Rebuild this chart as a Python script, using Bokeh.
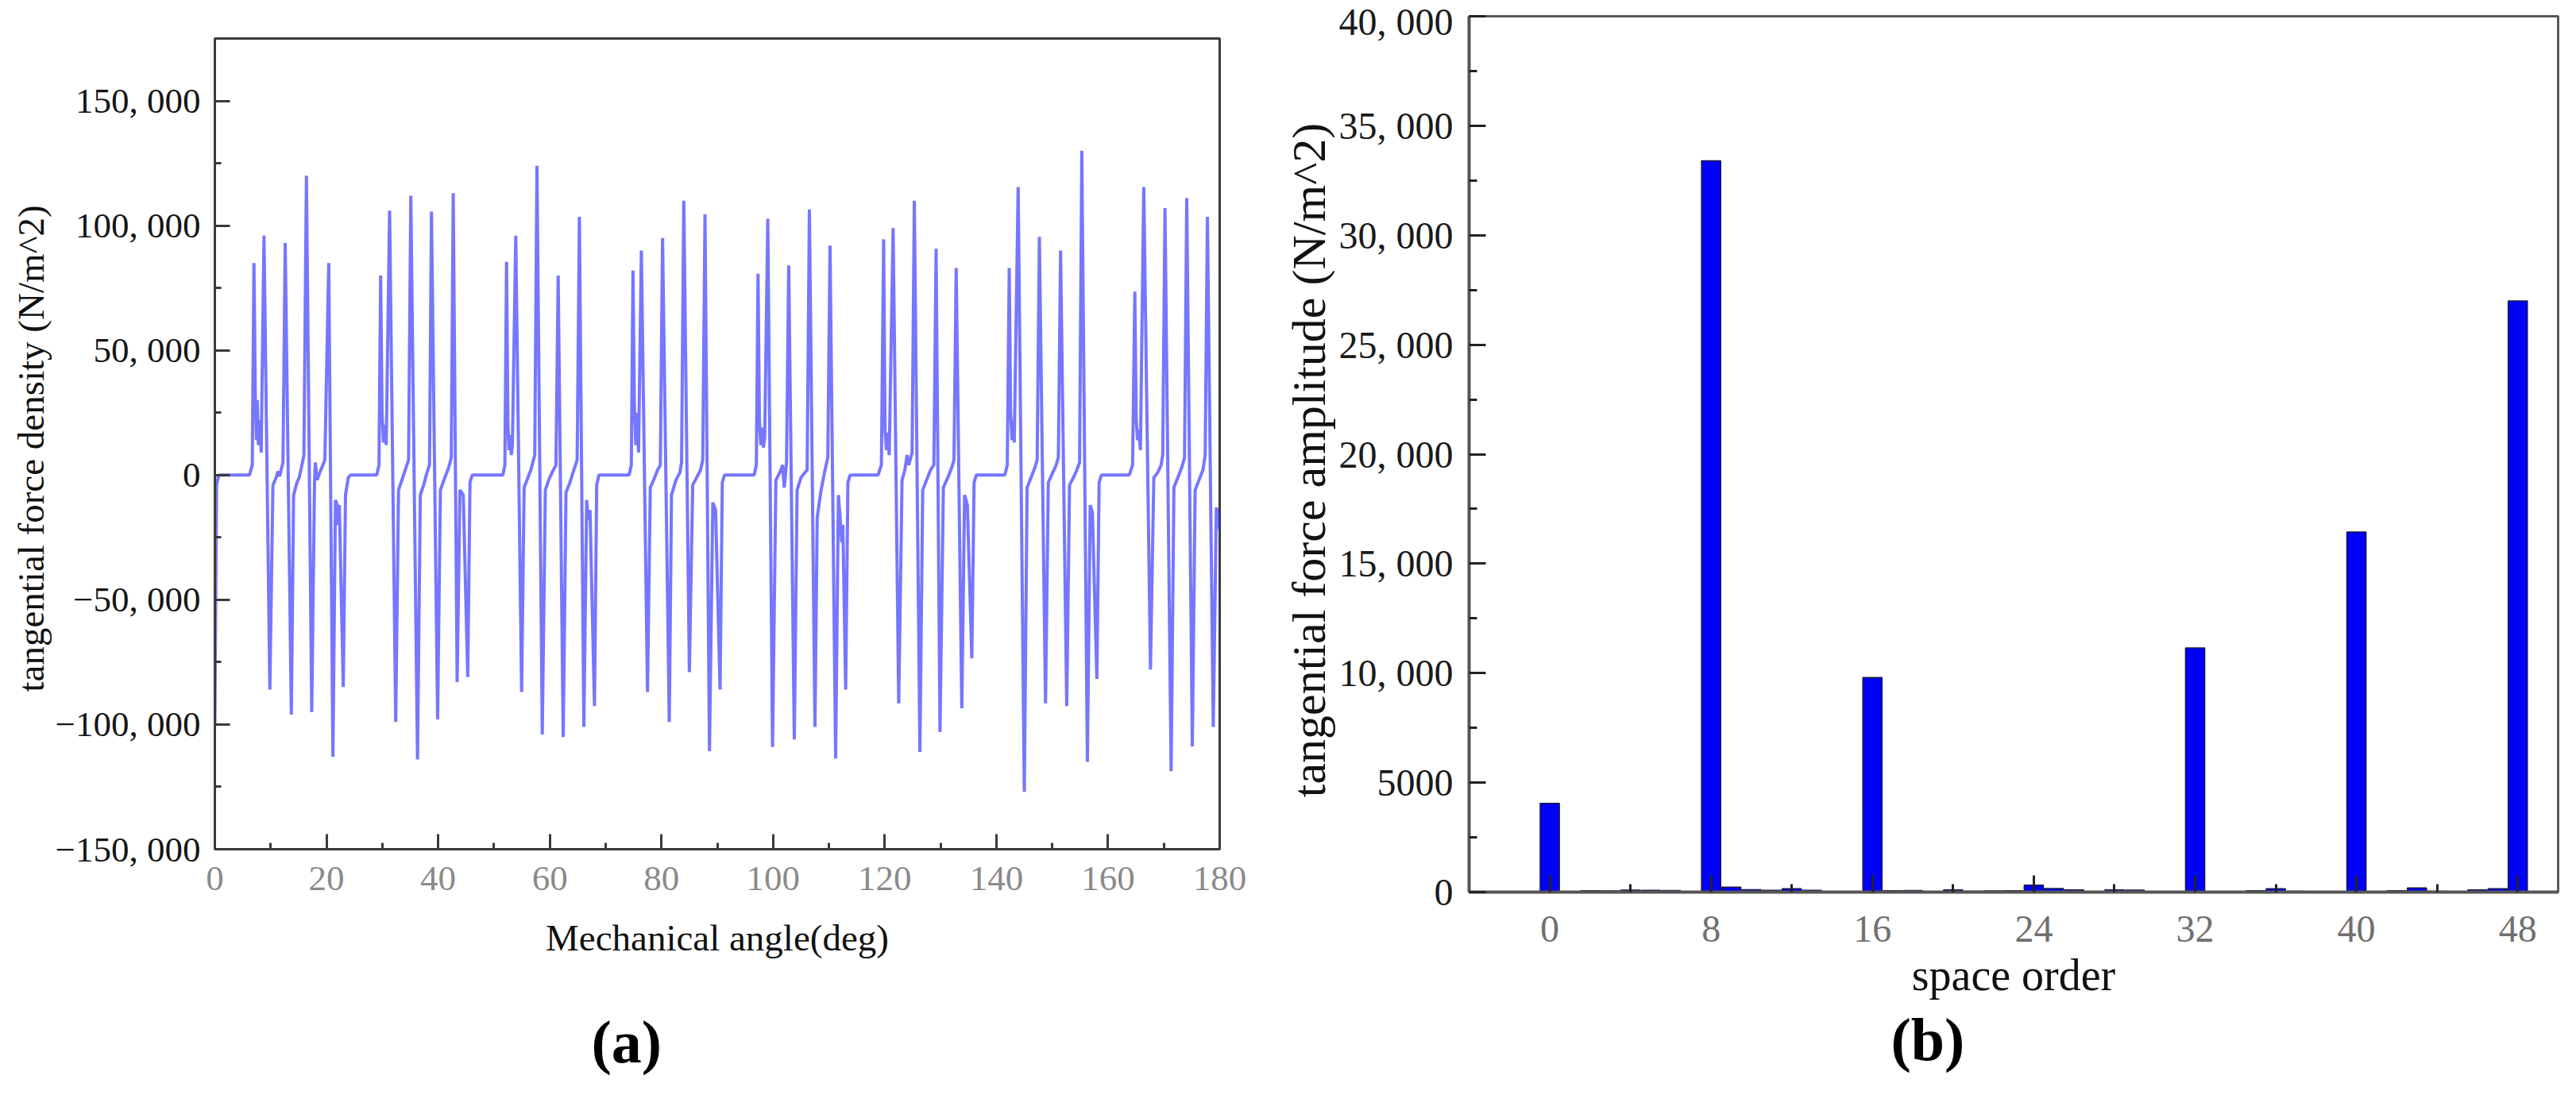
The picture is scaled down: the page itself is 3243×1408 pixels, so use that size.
from bokeh.plotting import figure
from bokeh.layouts import row
from bokeh.models import FixedTicker, Range1d, Title
from bokeh.embed import file_html
from bokeh.resources import INLINE

# ---------------- panel (a): tangential force density vs mechanical angle ----------------
# (angle in deg, force density in N/m^2) vertices, one list per pole group
group1 = [(0.0, -100000), (0.3, -4000), (0.7, 0), (6.2, 0), (6.7, 4000), (7.0, 85000), (7.25, 32000),
          (7.45, 14000), (7.6, 30000), (7.8, 12000), (8.05, 22000), (8.3, 9000), (8.8, 96000),
          (9.85, -86000), (10.4, -4000), (10.9, -1500), (11.3, 1500), (11.6, -500), (12.2, 5000),
          (12.6, 93000), (13.7, -96000), (14.1, -8000), (14.7, -3000), (15.1, -1000), (15.5, 3000),
          (15.95, 8000), (16.4, 120000), (17.35, -95000), (17.85, -3000), (18.0, 5000), (18.3, -2000),
          (18.8, 1000), (19.7, 6000), (20.4, 85000), (21.15, -113000), (21.6, -10000), (21.9, -12000),
          (22.1, -20000), (22.3, -12000), (23.0, -85000), (23.4, -8000), (23.9, -1000), (24.3, 0)]
group2 = [(29.0, 0), (29.4, 4000), (29.7, 80000), (29.95, 25000), (30.2, 13000), (30.45, 20000),
          (30.7, 12000), (31.3, 106000), (32.4, -99000), (32.9, -6000), (33.5, -2000), (34.1, 2000),
          (34.7, 6000), (35.1, 112000), (36.3, -114000), (36.8, -8000), (37.4, -4000), (38.0, 1000),
          (38.45, 4000), (38.8, 105600), (39.9, -98000), (40.4, -6000), (41.2, -1000), (41.9, 3000),
          (42.35, 7000), (42.7, 113000), (43.4, -83000), (43.9, -6000), (44.5, -8000), (45.3, -81000),
          (45.7, -3000), (46.1, 0)]
group3 = [(51.6, 0), (51.95, 4000), (52.25, 85500), (52.5, 20000), (52.7, 10000), (52.9, 16000),
          (53.1, 8000), (53.3, 12000), (53.9, 96000), (54.95, -87000), (55.4, -5000), (56.0, -1500),
          (56.6, 2000), (57.3, 8000), (57.7, 124000), (58.65, -104000), (59.2, -6000), (59.8, -2000),
          (60.4, 1000), (61.1, 4000), (61.5, 80000), (62.4, -105000), (62.9, -7000), (63.6, -3000),
          (64.3, 2000), (64.9, 6000), (65.3, 103500), (66.1, -101000), (66.6, -10000), (66.9, -18000),
          (67.2, -14000), (68.0, -92600), (68.4, -4000), (68.8, 0)]
group4 = [(74.2, 0), (74.6, 4000), (74.9, 82000), (75.15, 28000), (75.4, 12000), (75.6, 25000),
          (75.9, 9000), (76.4, 90000), (77.5, -87000), (78.0, -5000), (78.6, -2000), (79.3, 2000),
          (79.8, 4000), (80.2, 95000), (81.4, -99000), (81.8, -8000), (82.6, -2000), (83.3, 1000),
          (83.6, 5000), (84.0, 110000), (85.0, -79000), (85.6, -4000), (86.3, -1000), (87.0, 2000),
          (87.4, 6000), (87.8, 104600), (88.6, -110700), (89.2, -11000), (89.7, -14000), (90.5, -86000),
          (90.9, -3000), (91.3, 0)]
group5 = [(96.6, 0), (97.0, 4000), (97.3, 80700), (97.55, 22000), (97.8, 12000), (98.0, 19000),
          (98.25, 11000), (98.5, 15000), (99.05, 102700), (99.9, -109000), (100.5, -2000), (101.2, 1000),
          (101.7, 4000), (102.0, -5000), (102.4, 5000), (102.8, 84000), (103.8, -106000), (104.3, -6000),
          (105.0, -1000), (105.7, 1000), (106.1, 2000), (106.5, 106500), (107.5, -101000), (107.9, -17000),
          (108.6, -6000), (109.3, 2000), (109.8, 7000), (110.2, 92000), (111.2, -113600), (111.7, -8000),
          (112.0, -17000), (112.3, -27000), (112.5, -20000), (113.0, -86000), (113.4, -3000), (113.8, 0)]
group6 = [(118.8, 0), (119.4, 4000), (119.8, 94500), (120.05, 18000), (120.3, 10000), (120.5, 17000),
          (120.8, 8000), (121.5, 99000), (122.5, -91600), (123.1, -2000), (123.6, 2000), (124.0, 8000),
          (124.3, 4000), (124.9, 9000), (125.3, 110000), (126.3, -111000), (126.8, -6000), (127.5, -2000),
          (128.2, 2000), (128.8, 4000), (129.2, 90700), (129.9, -103000), (130.5, -5000), (131.3, -1000),
          (132.0, 3000), (132.4, 6000), (132.8, 83000), (133.8, -93500), (134.3, -8000), (134.8, -12000),
          (135.6, -73500), (136.0, -3000), (136.4, 0)]
group7 = [(141.5, 0), (141.95, 4000), (142.3, 83000), (142.55, 25000), (142.8, 14000), (143.0, 22000),
          (143.2, 13000), (143.9, 115500), (145.0, -127000), (145.5, -5000), (146.2, -1000), (146.9, 3000),
          (147.3, 6000), (147.7, 95500), (148.8, -91600), (149.3, -3000), (150.1, 1000), (150.7, 4000),
          (151.1, 7000), (151.5, 90000), (152.6, -92600), (153.1, -4000), (153.8, -1000), (154.4, 2000),
          (154.9, 5000), (155.3, 130000), (156.3, -115000), (156.8, -12000), (157.2, -15000),
          (158.0, -81700), (158.4, -3000), (158.8, 0)]
group8 = [(163.8, 0), (164.4, 4000), (164.8, 73500), (165.05, 22000), (165.3, 14000), (165.5, 18000),
          (165.8, 10000), (166.4, 115500), (167.6, -78000), (168.2, -1000), (168.9, 1000), (169.5, 4000),
          (169.8, 8000), (170.2, 107000), (171.3, -118700), (171.8, -5000), (172.5, -1000), (173.2, 3000),
          (173.7, 7000), (174.1, 111000), (175.1, -108800), (175.6, -6000), (176.3, -2000), (177.0, 2000),
          (177.4, 8000), (177.8, 103500), (178.85, -101000), (179.4, -13000), (179.7, -16000),
          (180.0, -22000)]
pole_groups = [group1, group2, group3, group4, group5, group6, group7, group8]

a_x_ticks = [0, 20, 40, 60, 80, 100, 120, 140, 160, 180]
a_x_minor = [10, 30, 50, 70, 90, 110, 130, 150, 170]
a_y_ticks = [-150000, -100000, -50000, 0, 50000, 100000, 150000]
a_y_labels = ["\u2212150, 000", "\u2212100, 000", "\u221250, 000", "0", "50, 000", "100, 000", "150, 000"]
a_y_minor = [-125000, -75000, -25000, 25000, 75000, 125000]

# ---------------- panel (b): tangential force amplitude vs space order ----------------
space_order = list(range(0, 50))
amplitude = [4050, 20, 60, 50, 90, 80, 70, 20, 33400, 230,
             110, 80, 150, 80, 20, 10, 9800, 60, 70, 30,
             100, 40, 50, 60, 320, 160, 100, 20, 100, 90,
             30, 10, 11150, 20, 10, 60, 150, 40, 10, 10,
             16450, 10, 60, 190, 40, 20, 100, 150, 27000, 10]

b_x_ticks = [0, 8, 16, 24, 32, 40, 48]
b_x_minor = [4, 12, 20, 28, 36, 44]
b_y_ticks = [0, 5000, 10000, 15000, 20000, 25000, 30000, 35000, 40000]
b_y_labels = ["0", "5000", "10, 000", "15, 000", "20, 000", "25, 000", "30, 000", "35, 000", "40, 000"]
b_y_minor = [2500, 7500, 12500, 17500, 22500, 27500, 32500, 37500]

SERIF = "Liberation Serif"

angle_deg = [pt[0] for g in pole_groups for pt in g]
force_density = [pt[1] for g in pole_groups for pt in g]

# ---------------- figure (a) ----------------
p1 = figure(width=1600, height=1390, x_range=Range1d(0, 180), y_range=Range1d(-150000, 175000),
            output_backend="svg", toolbar_location=None, frame_align=False,
            min_border_left=270, min_border_right=65, min_border_top=48, min_border_bottom=321)
p1.line(angle_deg, force_density, line_color="#3535ff", line_width=4, line_alpha=0.68)

p1.grid.visible = False
p1.outline_line_color = "#3a3a3a"
p1.outline_line_width = 3
p1.outline_line_alpha = 1

for ax in (p1.xaxis[0], p1.yaxis[0]):
    ax.axis_line_color = "#3a3a3a"
    ax.axis_line_width = 3
    ax.major_tick_line_color = "#3a3a3a"
    ax.minor_tick_line_color = "#3a3a3a"
    ax.major_tick_line_width = 3
    ax.minor_tick_line_width = 3
    ax.major_tick_in = 19
    ax.major_tick_out = 0
    ax.minor_tick_in = 8
    ax.minor_tick_out = 0
    ax.major_label_text_font = SERIF
    ax.major_label_text_font_size = "45px"
    ax.axis_label_text_font = SERIF
    ax.axis_label_text_font_size = "47px"
    ax.axis_label_text_font_style = "normal"
    ax.axis_label_text_color = "#111111"

p1.xaxis.ticker = FixedTicker(ticks=a_x_ticks, minor_ticks=a_x_minor)
p1.yaxis.ticker = FixedTicker(ticks=a_y_ticks, minor_ticks=a_y_minor)
p1.yaxis.major_label_overrides = dict(zip(a_y_ticks, a_y_labels))
p1.xaxis.major_label_text_color = "#8a8a8a"
p1.yaxis.major_label_text_color = "#151515"
p1.xaxis.major_label_standoff = 22
p1.yaxis.major_label_standoff = 18
p1.xaxis.axis_label = "Mechanical angle(deg)"
p1.yaxis.axis_label = "tangential force density  (N/m^2)"
p1.xaxis.axis_label_standoff = 31
p1.yaxis.axis_label_standoff = 2

# blank spacer between the axis title and the panel caption
p1.add_layout(Title(text=" ", standoff=47, text_font_size="10px"), "below")
p1.add_layout(Title(text="(a)", align="left", offset=474, vertical_align="top", standoff=0,
                    text_font=SERIF, text_font_size="76px", text_font_style="bold",
                    text_color="#000000"), "below")

# ---------------- figure (b) ----------------
p2 = figure(width=1627, height=1390, x_range=Range1d(-4, 50), y_range=Range1d(0, 40000),
            output_backend="svg", toolbar_location=None, frame_align=False,
            min_border_left=249, min_border_right=7, min_border_top=20, min_border_bottom=267)
p2.vbar(x=space_order, top=amplitude, width=0.95, bottom=0,
        fill_color="#0000ff", line_color="#1a1a40", line_width=1.5)

p2.grid.visible = False
p2.outline_line_color = "#5a5a5a"
p2.outline_line_width = 3
p2.outline_line_alpha = 1

for ax in (p2.xaxis[0], p2.yaxis[0]):
    ax.axis_line_color = "#555555"
    ax.axis_line_width = 4
    ax.major_tick_line_color = "#222222"
    ax.minor_tick_line_color = "#222222"
    ax.major_tick_line_width = 3
    ax.minor_tick_line_width = 3
    ax.major_tick_in = 21
    ax.major_tick_out = 0
    ax.minor_tick_in = 10
    ax.minor_tick_out = 0
    ax.major_label_text_font = SERIF
    ax.major_label_text_font_size = "48px"
    ax.axis_label_text_font = SERIF
    ax.axis_label_text_font_style = "normal"
    ax.axis_label_text_color = "#111111"

p2.xaxis.axis_label_text_font_size = "56px"
p2.yaxis.axis_label_text_font_size = "60px"
p2.xaxis.ticker = FixedTicker(ticks=b_x_ticks, minor_ticks=b_x_minor)
p2.yaxis.ticker = FixedTicker(ticks=b_y_ticks, minor_ticks=b_y_minor)
p2.yaxis.major_label_overrides = dict(zip(b_y_ticks, b_y_labels))
p2.xaxis.major_label_text_color = "#707070"
p2.yaxis.major_label_text_color = "#1a1a1a"
p2.xaxis.major_label_standoff = 30
p2.yaxis.major_label_standoff = 20
p2.xaxis.axis_label = "space order"
p2.yaxis.axis_label = "tangential force amplitude  (N/m^2)"
p2.xaxis.axis_label_standoff = 8
p2.yaxis.axis_label_standoff = 2

p2.add_layout(Title(text="(b)", align="left", offset=531, vertical_align="top", standoff=11,
                    text_font=SERIF, text_font_size="76px", text_font_style="bold",
                    text_color="#000000"), "below")

layout = row(p1, p2)
open("out.html", "w").write(file_html(layout, INLINE))
